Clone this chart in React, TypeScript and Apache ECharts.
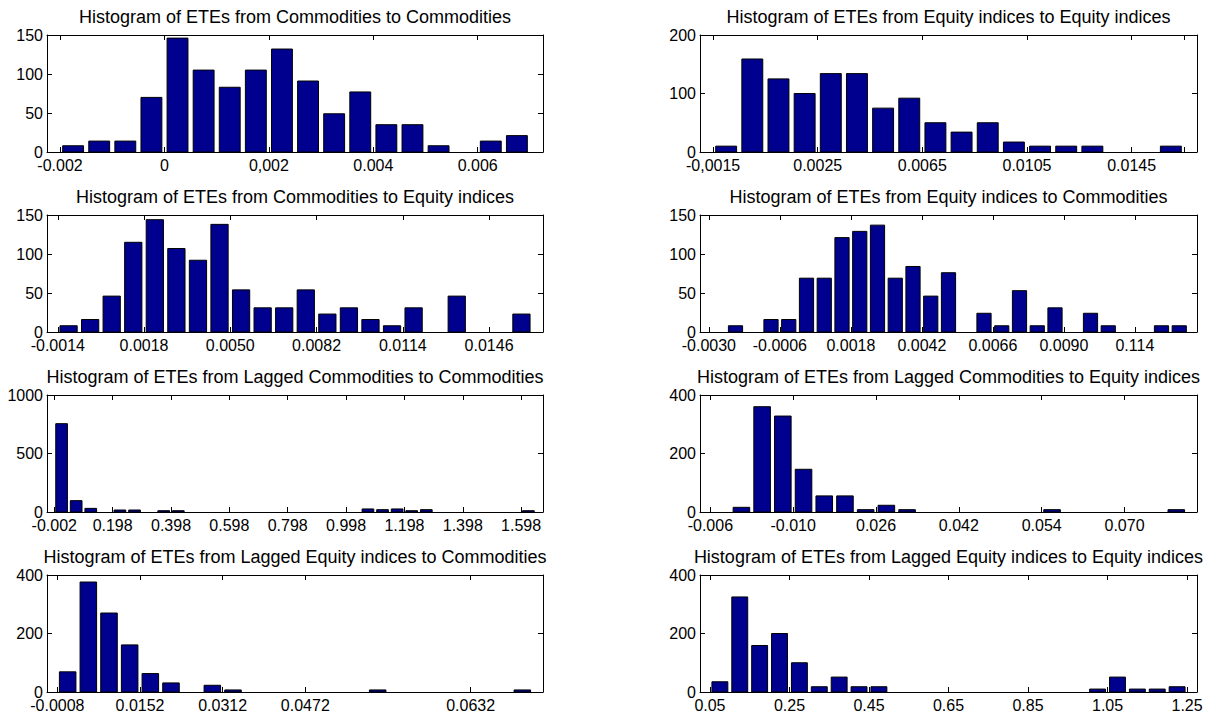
import React, { useEffect, useRef } from "react";
import * as echarts from "echarts";

const FONT = '"Liberation Sans", Arial, Helvetica, sans-serif';
const BAR_FILL = "#00008F";

// Panel titles, in subplot order (row by row, left then right)
const titles = [
  "Histogram of ETEs from Commodities to Commodities",
  "Histogram of ETEs from Equity indices to Equity indices",
  "Histogram of ETEs from Commodities to Equity indices",
  "Histogram of ETEs from Equity indices to Commodities",
  "Histogram of ETEs from Lagged Commodities to Commodities",
  "Histogram of ETEs from Lagged Commodities to Equity indices",
  "Histogram of ETEs from Lagged Equity indices to Commodities",
  "Histogram of ETEs from Lagged Equity indices to Equity indices",
];

// Bin counts (one entry per histogram bin, bins are numbered from 1)
const countsComToCom = [8, 14, 14, 70, 146, 105, 83, 105, 132, 91, 49, 77, 35, 35, 8, 0, 14, 21];
const countsEqToEq = [10, 159, 125, 100, 134, 134, 75, 92, 50, 34, 50, 17, 10, 10, 10, 0, 0, 10];
const countsComToEq = [8, 16, 46, 115, 144, 107, 92, 138, 54, 31, 31, 54, 23, 31, 16, 8, 31, 0, 46, 0, 0, 23];
const countsEqToCom = [0, 8, 0, 16, 16, 69, 69, 121, 129, 137, 69, 84, 46, 76, 0, 24, 8, 53, 8, 31, 0, 24, 8, 0, 0, 8, 8];
const countsLagComToCom = [755, 97, 31, 0, 17, 17, 0, 11, 11, 0, 0, 0, 0, 0, 0, 0, 0, 0, 0, 0, 0, 26, 20, 26, 11, 20, 0, 0, 0, 0, 0, 0, 11];
const countsLagComToEq = [0, 16, 360, 328, 146, 55, 55, 8, 23, 8, 0, 0, 0, 0, 0, 0, 8, 0, 0, 0, 0, 0, 8];
const countsLagEqToCom = [69, 376, 270, 161, 63, 31, 0, 23, 7, 0, 0, 0, 0, 0, 0, 7, 0, 0, 0, 0, 0, 0, 7];
const countsLagEqToEq = [35, 325, 159, 200, 100, 18, 51, 18, 18, 0, 0, 0, 0, 0, 0, 0, 0, 0, 0, 10, 51, 10, 10, 18];

// X tick positions (in bin units) and their labels
const ticksComToCom = [0.5, 4.5, 8.5, 12.5, 16.5];
const labelsComToCom = ["-0.002", "0", "0,002", "0.004", "0.006"];
const ticksEqToEq = [0.5, 4.5, 8.5, 12.5, 16.5, 18.5];
const labelsEqToEq = ["-0,0015", "0.0025", "0.0065", "0.0105", "0.0145", ""];
const ticksComToEq = [0.5, 4.5, 8.5, 12.5, 16.5, 20.5];
const labelsComToEq = ["-0.0014", "0.0018", "0.0050", "0.0082", "0.0114", "0.0146"];
const ticksEqToCom = [0.5, 4.5, 8.5, 12.5, 16.5, 20.5, 24.5];
const labelsEqToCom = ["-0.0030", "-0.0006", "0.0018", "0.0042", "0.0066", "0.0090", "0.114"];
const ticksLagComToCom = [0.5, 4.5, 8.5, 12.5, 16.5, 20.5, 24.5, 28.5, 32.5];
const labelsLagComToCom = ["-0.002", "0.198", "0.398", "0.598", "0.798", "0.998", "1.198", "1.398", "1.598"];
const ticksLagComToEq = [0.5, 4.5, 8.5, 12.5, 16.5, 20.5];
const labelsLagComToEq = ["-0.006", "-0.010", "0.026", "0.042", "0.054", "0.070"];
const ticksLagEqToCom = [0.5, 4.5, 8.5, 12.5, 20.5];
const labelsLagEqToCom = ["-0.0008", "0.0152", "0.0312", "0.0472", "0.0632"];
const ticksLagEqToEq = [0.5, 4.5, 8.5, 12.5, 16.5, 20.5, 24.5];
const labelsLagEqToEq = ["0.05", "0.25", "0.45", "0.65", "0.85", "1.05", "1.25"];

// Y axis upper limits and tick steps
const yMaxes = [150, 200, 150, 150, 1000, 400, 400, 400];
const ySteps = [50, 100, 50, 50, 500, 200, 200, 200];

const allCounts = [
  countsComToCom, countsEqToEq, countsComToEq, countsEqToCom,
  countsLagComToCom, countsLagComToEq, countsLagEqToCom, countsLagEqToEq,
];
const allTicks = [
  ticksComToCom, ticksEqToEq, ticksComToEq, ticksEqToCom,
  ticksLagComToCom, ticksLagComToEq, ticksLagEqToCom, ticksLagEqToEq,
];
const allLabels = [
  labelsComToCom, labelsEqToEq, labelsComToEq, labelsEqToCom,
  labelsLagComToCom, labelsLagComToEq, labelsLagEqToCom, labelsLagEqToEq,
];

// Subplot frame geometry (4 rows x 2 columns)
const COL_LEFT = [47, 700];
const COL_WIDTH = [496, 497];
const ROW_TOP = [35, 215, 395, 575];
const ROW_HEIGHT = 117;

function buildOption() {
  const grid: any[] = [];
  const xAxis: any[] = [];
  const yAxis: any[] = [];
  const series: any[] = [];
  const title: any[] = [];

  const lineStyle = { color: "#000", width: 1 };

  for (let i = 0; i < 8; i++) {
    const row = Math.floor(i / 2);
    const col = i % 2;
    const left = COL_LEFT[col];
    const width = COL_WIDTH[col];
    const top = ROW_TOP[row];
    const counts = allCounts[i];
    const ticks = allTicks[i];
    const labels = allLabels[i];
    const nBins = counts.length;

    grid.push({ left, top, width, height: ROW_HEIGHT, containLabel: false });

    title.push({
      text: titles[i],
      left: left + width / 2,
      top: top - 27,
      textAlign: "center",
      padding: 0,
      textStyle: { fontFamily: FONT, fontSize: 18, fontWeight: "normal", color: "#000" },
    });

    const labelFor = (v: number) => {
      const k = ticks.findIndex((t) => Math.abs(t - v) < 1e-6);
      return k >= 0 ? labels[k] : "";
    };

    xAxis.push({
      type: "value",
      gridIndex: i,
      position: "bottom",
      min: 0,
      max: nBins + 1,
      axisLine: { show: true, onZero: false, lineStyle },
      axisTick: { show: true, inside: true, length: 5, customValues: ticks, lineStyle },
      axisLabel: {
        show: true,
        customValues: ticks,
        formatter: (v: number) => labelFor(v),
        fontFamily: FONT,
        fontSize: 16,
        color: "#000",
        margin: 5,
      },
      splitLine: { show: false },
    });
    xAxis.push({
      type: "value",
      gridIndex: i,
      position: "top",
      min: 0,
      max: nBins + 1,
      axisLine: { show: true, onZero: false, lineStyle },
      axisTick: { show: true, inside: true, length: 5, customValues: ticks, lineStyle },
      axisLabel: { show: false },
      splitLine: { show: false },
    });

    yAxis.push({
      type: "value",
      gridIndex: i,
      position: "left",
      min: 0,
      max: yMaxes[i],
      interval: ySteps[i],
      axisLine: { show: true, onZero: false, lineStyle },
      axisTick: { show: true, inside: true, length: 5, lineStyle },
      axisLabel: {
        show: true,
        formatter: (v: number) => String(v),
        fontFamily: FONT,
        fontSize: 16,
        color: "#000",
        margin: 4,
      },
      splitLine: { show: false },
    });
    yAxis.push({
      type: "value",
      gridIndex: i,
      position: "right",
      min: 0,
      max: yMaxes[i],
      interval: ySteps[i],
      axisLine: { show: true, onZero: false, lineStyle },
      axisTick: { show: true, inside: true, length: 5, lineStyle },
      axisLabel: { show: false },
      splitLine: { show: false },
    });

    series.push({
      type: "custom",
      xAxisIndex: 2 * i,
      yAxisIndex: 2 * i,
      data: counts.map((c, k) => [k + 1, c]),
      encode: { x: 0, y: 1 },
      renderItem: (_params: any, api: any) => {
        const x = api.value(0);
        const c = api.value(1);
        if (!c) return null;
        const p0 = api.coord([x - 0.4, c]);
        const p1 = api.coord([x + 0.4, 0]);
        return {
          type: "rect",
          shape: { x: p0[0], y: p0[1], width: p1[0] - p0[0], height: p1[1] - p0[1] },
          style: { fill: BAR_FILL, stroke: "#000", lineWidth: 1 },
        };
      },
    });
  }

  return {
    animation: false,
    backgroundColor: "#fff",
    title,
    grid,
    xAxis,
    yAxis,
    series,
  };
}

export default function App() {
  const ref = useRef<HTMLDivElement>(null);

  useEffect(() => {
    if (!ref.current) return;
    const chart = echarts.init(ref.current, undefined, { renderer: "svg" });
    chart.setOption(buildOption());
    return () => chart.dispose();
  }, []);

  return (
    <div
      ref={ref}
      style={{ position: "absolute", left: 0, top: 0, width: 1221, height: 715, background: "#fff" }}
    />
  );
}
